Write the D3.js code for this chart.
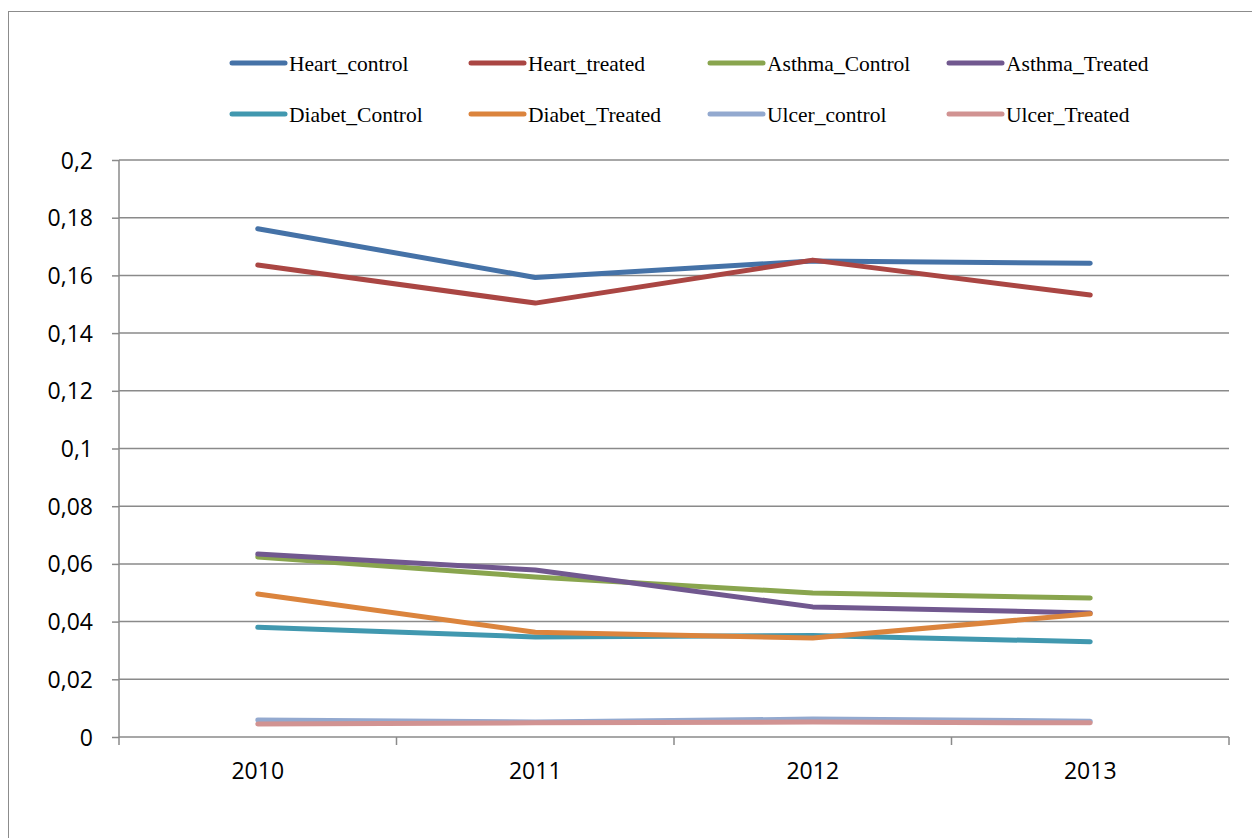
<!DOCTYPE html>
<html>
<head>
<meta charset="utf-8">
<script src="https://cdn.jsdelivr.net/npm/d3@7"></script>
<style>
  html, body { margin: 0; padding: 0; background: #fff; }
  svg { display: block; }
</style>
</head>
<body>
<svg id="chart" width="1252" height="838"></svg>
<script>
const years = ["2010", "2011", "2012", "2013"];
const seriesNames = ["Heart_control", "Heart_treated", "Asthma_Control", "Asthma_Treated",
                     "Diabet_Control", "Diabet_Treated", "Ulcer_control", "Ulcer_Treated"];
const heartControl   = [0.1762, 0.1593, 0.1650, 0.1642];
const heartTreated   = [0.1636, 0.1504, 0.1653, 0.1532];
const asthmaControl  = [0.0624, 0.0555, 0.0499, 0.0482];
const asthmaTreated  = [0.0634, 0.0579, 0.0451, 0.0430];
const diabetControl  = [0.0380, 0.0347, 0.0352, 0.0330];
const diabetTreated  = [0.0496, 0.0363, 0.0343, 0.0427];
const ulcerControl   = [0.0059, 0.0052, 0.0062, 0.0055];
const ulcerTreated   = [0.0045, 0.0049, 0.0052, 0.0049];
const yTicks = [0, 0.02, 0.04, 0.06, 0.08, 0.1, 0.12, 0.14, 0.16, 0.18, 0.2];
const colors = ["#4572A7", "#AA4643", "#89A54E", "#71588F", "#4198AF", "#DB843D", "#93A9CF", "#D19392"];

const allValues = [heartControl, heartTreated, asthmaControl, asthmaTreated,
                   diabetControl, diabetTreated, ulcerControl, ulcerTreated];

const svg = d3.select("#chart");
const pLeft = 119, pRight = 1229, pTop = 160, pBottom = 737;

// outer border
svg.append("rect").attr("x", 8.5).attr("y", 11.5).attr("width", 1260).attr("height", 840)
  .attr("fill", "none").attr("stroke", "#8c8c8c").attr("stroke-width", 1);

const x = d3.scaleBand().domain(years).range([pLeft, pRight]).paddingInner(0).paddingOuter(0);
const y = d3.scaleLinear().domain([0, 0.2]).range([pBottom, pTop]);

const gridColor = "#8a8a8a";
const axisFont = "'Open Sans', 'Liberation Sans', sans-serif";

// gridlines
svg.append("g").selectAll("line").data(yTicks.filter(d => d > 0)).join("line")
  .attr("x1", pLeft).attr("x2", pRight)
  .attr("y1", d => y(d)).attr("y2", d => y(d))
  .attr("stroke", gridColor).attr("stroke-width", 1.5);

// y axis
const fmt = d => d === 0 ? "0" : String(+d.toFixed(2)).replace(".", ",");
const yAxis = svg.append("g").attr("transform", `translate(${pLeft},0)`)
  .call(d3.axisLeft(y).tickValues(yTicks).tickSize(7).tickPadding(19).tickFormat(fmt));
yAxis.select(".domain").attr("stroke", gridColor).attr("stroke-width", 1.5).attr("d", `M0,${pTop}V${pBottom}`);
yAxis.selectAll(".tick line").attr("stroke", gridColor).attr("stroke-width", 1.5);
yAxis.selectAll("text").attr("font-family", axisFont)
  .attr("font-size", 23).attr("fill", "#000").attr("dy", "0.35em");

// x axis
const xAxis = svg.append("g").attr("transform", `translate(0,${pBottom})`)
  .call(d3.axisBottom(x).tickSize(0).tickPadding(26));
xAxis.select(".domain").attr("stroke", gridColor).attr("stroke-width", 1.5).attr("d", `M${pLeft},0H${pRight}`);
xAxis.selectAll("text").attr("font-family", axisFont)
  .attr("font-size", 23).attr("fill", "#000");
const xBoundaries = years.map(d => x(d)).concat([pRight]);
xAxis.selectAll(".xtick").data(xBoundaries).join("line")
  .attr("x1", d => d).attr("x2", d => d).attr("y1", 0).attr("y2", 8)
  .attr("stroke", gridColor).attr("stroke-width", 1.5);

// lines
const line = d3.line().x((d, i) => x(years[i]) + x.bandwidth() / 2).y(d => y(d));
svg.append("g").selectAll("path").data(allValues).join("path")
  .attr("d", d => line(d))
  .attr("fill", "none")
  .attr("stroke", (d, i) => colors[i])
  .attr("stroke-width", 5)
  .attr("stroke-linecap", "round")
  .attr("stroke-linejoin", "round");

// legend
const legend = svg.append("g");
const colX = [232, 471, 710, 949];
const rowY = [63, 114];
seriesNames.forEach((name, i) => {
  const cx = colX[i % 4], cy = rowY[Math.floor(i / 4)];
  legend.append("line").attr("x1", cx).attr("x2", cx + 53).attr("y1", cy).attr("y2", cy)
    .attr("stroke", colors[i]).attr("stroke-width", 5).attr("stroke-linecap", "round");
  legend.append("text").attr("x", cx + 57).attr("y", cy).attr("dy", "0.35em")
    .attr("font-family", "'Liberation Serif', 'Times New Roman', serif")
    .attr("font-size", 21.5).attr("fill", "#000").text(name);
});
</script>
</body>
</html>
